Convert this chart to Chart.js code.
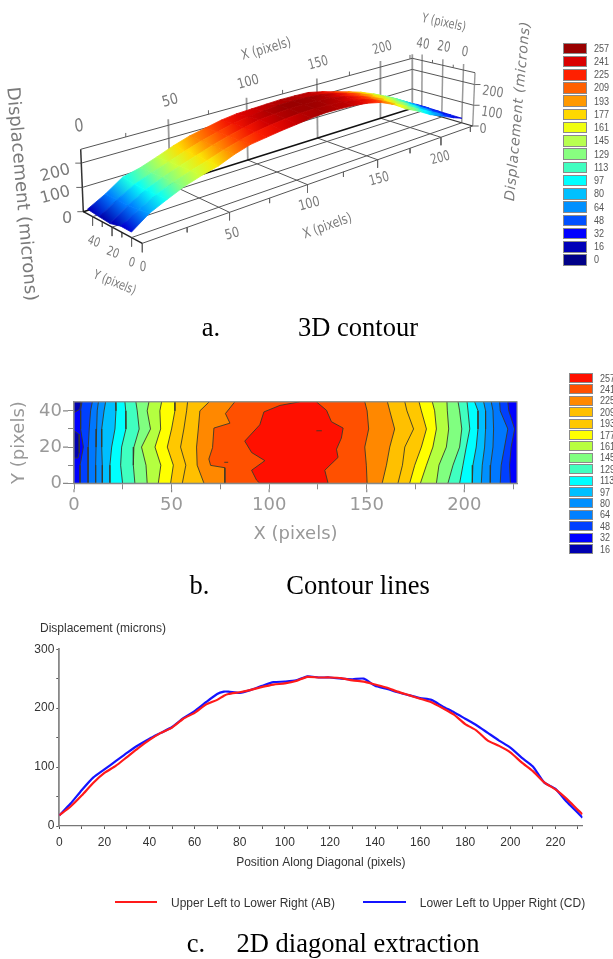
<!DOCTYPE html>
<html><head><meta charset="utf-8">
<style>
html,body{margin:0;padding:0;background:#fff;width:613px;height:959px;overflow:hidden}
#page{position:relative;width:613px;height:959px;overflow:hidden;filter:blur(0.55px)}
canvas{position:absolute;left:0}
.t{position:absolute;white-space:nowrap;transform-origin:center}
.sw{position:absolute;box-sizing:border-box;border:1.5px solid #8a8a8a}
</style>
<script src="https://cdn.jsdelivr.net/npm/chart.js@4"></script>
</head><body><div id="page">
<canvas id="c3d" width="613" height="320" style="top:0"></canvas>
<canvas id="cmap" width="613" height="165" style="top:385px"></canvas>
<canvas id="cline" width="613" height="235" style="top:640px"></canvas>
</div>
<script>
/* ---------- panel c: diagonal extraction ---------- */
const diagX=[0,5,10,15,20,25,30,35,40,45,50,55,60,65,70,73,75,80,85,90,95,100,105,110,115,120,125,130,135,140,145,150,155,160,165,170,175,180,185,190,195,200,205,210,215,220,225,230,232];
const upperLeftAB=[18,33,52,73,90,102,117,132,146,158,167,182,192,206,214,221,224,227,231,236,240,242,246,253,252,252,251,247,245,240,235,228,222,216,210,200,189,173,162,145,136,125,108,93,74,62,46,27,20];
const lowerLeftCD=[18,38,61,82,96,110,124,137,148,158,168,183,195,210,224,228,228,226,231,238,244,245,247,254,252,252,250,249,250,238,233,227,222,217,214,203,193,182,171,158,145,133,116,101,74,63,41,22,14];
const seriesNames=['Upper Left to Lower Right (AB)','Lower Left to Upper Right (CD)'];

/* ---------- panel b: contour lines, X position of each line at each Y row ---------- */
const contourRowsY=[45,40,30,20,10,0];
const contourLeft=[
 [4.1,3.4,3.4,4.8,3.1,3.1],
 [9.4,8.5,7.8,7.3,7.2,7.2],
 [12.5,11.9,11.6,11.3,11.1,11.1],
 [16.2,15.4,14.2,14.2,14.5,14.5],
 [21.3,21.5,21,19.3,18.4,18.4],
 [26.1,26.5,26.6,24.4,23.9,24.9],
 [31.7,32.4,33.4,30.7,30.4,31.2],
 [38.4,37.5,39.2,34.6,36.9,37.5],
 [44.9,44,44.4,41.5,44.5,43.2],
 [51.7,51.7,50,47.8,50.9,49.5],
 [58.2,57.7,56.3,54.6,57.3,55.5],
 [69.3,64.5,63.7,62.8,63.1,66.6]];
const contourRight=[
 [149,150.2,151,149,149.8,150.2],
 [160.6,161.8,164.3,161.8,160.1,157.9],
 [169.5,170.6,174,169.5,168.3,166],
 [176.8,178,180.6,178,174.6,172],
 [183.6,184.8,185.7,183.9,180.6,177.5],
 [191.1,191.3,192,190.8,187,185.7],
 [196.8,197.6,198.7,197.6,194.2,191.6],
 [201.4,201.9,202.8,201,199.3,197.6],
 [205.3,207,207,206.1,204.4,204.1],
 [209.9,210.9,210.9,210.4,209.2,208.7],
 [213.8,214.7,215,214.7,213.5,213.3],
 [218.1,218.4,222.3,220.6,218.9,218.4],
 [222.3,222.8,225.8,224,223.2,223.6]];
const contourEdgeX=[82.4,77.6,79.9,71.7,71,69.1,70,77.3,77.3];
const contourEdgeY=[45,38.5,33.2,30.5,19.7,13.4,9.9,8.6,0];
const peakX=[115.7,105.5,97.3,95.2,87.5,91,97.8,91,93.5,95.2,130.2,128.5,135.3,134.5,137,137.9,131.9,129.4,124.2];
const peakY=[45,43,39.4,32.3,23.3,17,12.5,7.2,1.8,0,0,7.2,14.3,18.8,25,30.5,34,40.3,45];
const lobeX=[0,2.6,2.8,2.6,2,0];
const lobeY=[29,27,22,17,14,14];
const lobeTopX=[0,3.6,3,0];
const lobeTopY=[45,45,41,39];
const speckA=[[77,11.6],[79,11.6]];
const speckB=[[124.2,29],[127,29]];
const bandLeftColors=['#0040ff','#0078ff','#0090ff','#00bfff','#00ffff','#40ffc0','#80ff80','#b4ff40','#ffff00','#ffc800','#ffc000','#ff8800'];
const bandRightColors=['#ff8800','#ffc000','#ffc800','#ffff00','#b4ff40','#80ff80','#40ffc0','#00ffff','#00bfff','#0090ff','#0078ff','#0040ff','#0000ff'];

/* ---------- panel b legend ---------- */
const mapLegendLevels=[257,241,225,209,193,177,161,145,129,113,97,80,64,48,32,16];
const mapLegendColors=['#ff1000','#ff5000','#ff8800','#ffc000','#ffc800','#ffff00','#b8ff40','#80ff80','#40ffc0','#00ffff','#00c0ff','#0090ff','#0080ff','#0040ff','#0000ff','#0000b0'];

/* ---------- panel a: surface heights per X station, one list per Y row ---------- */
const surfaceX=[0,10,20,30,40,50,60,70,80,90,100,110,120,130,140,150,160,170,180,190,200,210,220,227];
const surfaceRowsY=[45,33,22,11,0];
const surfaceRow45=[20,59,107,124,149,176,198,213,228,237,240,243,246,245,243,229,211,193,173,147,118,83,46,27];
const surfaceRow33=[14,60,100,126,150,175,197,215,232,243,250,256,257,255,250,238,220,200,176,150,120,84,48,26];
const surfaceRow22=[10,58,98,127,152,174,197,216,232,246,253,257,257,256,251,239,222,199,172,143,112,76,44,24];
const surfaceRow11=[22,62,100,128,151,172,195,214,230,240,248,253,255,252,248,238,223,196,165,135,102,70,40,23];
const surfaceRow0=[21,70,101,130,151,168,195,215,224,233,240,248,252,250,246,238,223,195,156,126,91,65,38,22];
const surfaceRows=[surfaceRow45,surfaceRow33,surfaceRow22,surfaceRow11,surfaceRow0];
const levels3d=[257,241,225,209,193,177,161,145,129,113,97,80,64,48,32,16,0];
const colors3d=['#990000','#d90000','#ff2000','#ff6000','#ff9900','#ffd800','#f0ff10','#b8ff50','#88ff80','#40ffc0','#00ffff','#00c0ff','#0090ff','#0050ff','#0000ff','#0000b8','#000088'];
const xTicks3d=[0,50,100,150,200], xMinor3d=[25,75,125,175,225];
const yTicks3d=[0,20,40], yMinor3d=[10,30];
const zTicks3d=[0,100,200];

Chart.defaults.animation=false;
Chart.defaults.responsive=false;
Chart.defaults.maintainAspectRatio=false;

/* 3D box: camera view reduced to its eight corners */
const box={X:227,Ylo:-11,Yhi:49.5,Z:257,warp:0.27,
 f00:[142.3,243.3],f01:[83.3,211.7],f10:[472.7,126],f11:[412.3,108.3],
 t00:[141.3,175.3],t01:[80.7,149.3],t10:[475,72.7],t11:[412.3,58.3]};
function lerp(a,b,t){return [a[0]+(b[0]-a[0])*t,a[1]+(b[1]-a[1])*t];}
function project(X,Y,z){
 const u=X/box.X, fx=u*(1+box.warp)/(1+box.warp*u);
 const fy=(Y-box.Ylo)/(box.Yhi-box.Ylo), fz=z/box.Z;
 const f=lerp(lerp(box.f00,box.f10,fx),lerp(box.f01,box.f11,fx),fy);
 const t=lerp(lerp(box.t00,box.t10,fx),lerp(box.t01,box.t11,fx),fy);
 const p=lerp(f,t,fz);
 return {x:p[0],y:p[1]};
}
function wire(pts,color,width){return {type:'scatter',data:pts,showLine:true,borderColor:color,borderWidth:width,pointRadius:0,tension:0,fill:false};}
function shift(p,dx,dy){return {x:p.x+dx,y:p.y+dy};}
const G='#666',L='#9a9a9a',D='#111';
const wires=[];
[box.Ylo,0,20,40].forEach((Y,i)=>wires.push(wire([project(0,Y,0),project(227,Y,0)],'#555',1)));
wires.push(wire([project(0,box.Yhi,0),project(227,box.Yhi,0)],D,1.6));
xTicks3d.slice(1).forEach(X=>wires.push(wire([project(X,box.Ylo,0),project(X,box.Yhi,0)],'#555',1)));
wires.push(wire([project(227,box.Ylo,0),project(227,box.Yhi,0)],'#333',1.2));
wires.push(wire([project(0,box.Ylo,0),project(0,box.Yhi,0)],'#222',1.4));
[100,200,257].forEach(z=>{
 wires.push(wire([project(0,box.Yhi,z),project(227,box.Yhi,z)],'#555',1));
 wires.push(wire([project(227,box.Yhi,z),project(227,box.Ylo,z)],'#555',1));
});
xTicks3d.slice(1).forEach(X=>wires.push(wire([project(X,box.Yhi,0),shift(project(X,box.Yhi,257),0,-6)],L,1.8)));
yTicks3d.forEach(Y=>wires.push(wire([project(227,Y,0),shift(project(227,Y,257),0,-6)],L,1.5)));
wires.push(wire([project(227,box.Yhi,0),shift(project(227,box.Yhi,257),0,-4)],L,1.8));
wires.push(wire([project(227,box.Ylo,0),project(227,box.Ylo,257)],L,1.4));
wires.push(wire([project(0,box.Yhi,0),project(0,box.Yhi,257)],'#333',1.5));
xTicks3d.slice(1).forEach(X=>{const p=project(X,box.Ylo,0);wires.push(wire([p,shift(p,0,8)],G,1));});
xMinor3d.forEach(X=>{const p=project(X,box.Ylo,0);wires.push(wire([p,shift(p,0,5)],G,1));
 const q=project(X,box.Yhi,257);wires.push(wire([q,shift(q,0,-4)],G,1));});
yTicks3d.forEach(Y=>{const p=project(0,Y,0);wires.push(wire([p,shift(p,0,9)],G,1));});
yMinor3d.forEach(Y=>{const p=project(0,Y,0);wires.push(wire([p,shift(p,0,5)],G,1));
 const q=project(227,Y,257);wires.push(wire([q,shift(q,0,-3)],G,1));});
{const p=project(0,box.Ylo,0);wires.push(wire([p,shift(p,0,9)],G,1));}
zTicks3d.forEach(z=>{const p=project(227,box.Ylo,z);wires.push(wire([p,shift(p,6,0)],G,1));
 const q=project(0,box.Yhi,z);wires.push(wire([q,shift(q,-6,0)],G,1));});

const rowSets=surfaceRows.map((row,i)=>({type:'scatter',surfaceRow:true,zs:row,
 data:row.map((z,j)=>project(surfaceX[j],surfaceRowsY[i],z)),showLine:false,pointRadius:0}));

function hex(c){return [1,3,5].map(i=>parseInt(c.substr(i,2),16));}
function colorAt(z){
 for(let i=levels3d.length-1;i>0;i--){
  if(z<=levels3d[i-1]){
   const t=(z-levels3d[i])/(levels3d[i-1]-levels3d[i]);
   const a=hex(colors3d[i]),b=hex(colors3d[i-1]);
   return 'rgb('+a.map((v,k)=>Math.round(v+(b[k]-v)*t)).join(',')+')';
  }
 }
 return colors3d[0];
}
const surfacePlugin={id:'surface',afterDatasetsDraw(chart){
 const ctx=chart.ctx;
 const sets=chart.data.datasets.map((d,i)=>({d,m:chart.getDatasetMeta(i)})).filter(o=>o.d.surfaceRow);
 ctx.save();ctx.lineWidth=0.8;
 for(let r=0;r<sets.length-1;r++){
  const A=sets[r],B=sets[r+1];
  for(let j=0;j<A.m.data.length-1;j++){
   const a0=A.m.data[j],a1=A.m.data[j+1],b0=B.m.data[j],b1=B.m.data[j+1];
   const mx0=(a0.x+b0.x)/2,my0=(a0.y+b0.y)/2,mx1=(a1.x+b1.x)/2,my1=(a1.y+b1.y)/2;
   const g=ctx.createLinearGradient(mx0,my0,mx1,my1);
   g.addColorStop(0,colorAt((A.d.zs[j]+B.d.zs[j])/2));
   g.addColorStop(1,colorAt((A.d.zs[j+1]+B.d.zs[j+1])/2));
   ctx.fillStyle=g;ctx.strokeStyle=g;
   ctx.beginPath();ctx.moveTo(a0.x,a0.y);ctx.lineTo(a1.x,a1.y);ctx.lineTo(b1.x,b1.y);ctx.lineTo(b0.x,b0.y);ctx.closePath();
   ctx.fill();ctx.stroke();
  }
 }
 ctx.restore();
}};
new Chart(document.getElementById('c3d'),{type:'scatter',
 data:{datasets:wires.concat(rowSets)},
 options:{layout:{padding:0},plugins:{legend:{display:false},tooltip:{enabled:false}},
  scales:{x:{type:'linear',display:false,min:0,max:613},y:{type:'linear',display:false,min:0,max:320,reverse:true}}},
 plugins:[surfacePlugin]});

/* ---------- panel b chart ---------- */
const toPts=(xs,ys)=>xs.map((x,i)=>({x,y:ys[i]}));
const contourSets=[];
function band(pts,color,kind){contourSets.push({type:'scatter',data:pts,showLine:true,borderColor:'#3a3a2a',borderWidth:0.9,pointRadius:0,tension:0,fill:false,regionColor:color,regionKind:kind});}
contourLeft.forEach((xs,i)=>band(toPts(xs,contourRowsY),bandLeftColors[i],'right'));
band(toPts(contourEdgeX,contourEdgeY),'#ff5000','right');
band(toPts(peakX,peakY),'#ff1000','closed');
contourRight.forEach((xs,i)=>band(toPts(xs,contourRowsY),bandRightColors[i],'right'));
band(toPts(lobeX,lobeY),'#0000b0','closed');
band(toPts(lobeTopX,lobeTopY),'#0000b0','closed');
band(speckA.map(p=>({x:p[0],y:p[1]})),null,'line');
band(speckB.map(p=>({x:p[0],y:p[1]})),null,'line');

const regionPlugin={id:'regions',
 beforeDatasetsDraw(chart){
  const ctx=chart.ctx,a=chart.chartArea;
  ctx.save();ctx.beginPath();ctx.rect(a.left,a.top,a.width,a.height);ctx.clip();
  ctx.fillStyle='#0000ff';ctx.fillRect(a.left,a.top,a.width,a.height);
  chart.data.datasets.forEach((d,i)=>{
   if(!d.regionColor)return;
   const pts=chart.getDatasetMeta(i).data;
   ctx.fillStyle=d.regionColor;ctx.beginPath();
   pts.forEach((p,k)=>k?ctx.lineTo(p.x,p.y):ctx.moveTo(p.x,p.y));
   if(d.regionKind==='right'){ctx.lineTo(a.right,a.bottom);ctx.lineTo(a.right,a.top);}
   ctx.closePath();ctx.fill();
  });
  ctx.restore();
 },
 afterDraw(chart){
  const ctx=chart.ctx,a=chart.chartArea,xs=chart.scales.x,ys=chart.scales.y;
  ctx.save();ctx.strokeStyle='#888';ctx.lineWidth=1.2;
  ctx.strokeRect(a.left,a.top,a.width,a.height);
  ctx.beginPath();
  xs.ticks.forEach((t,i)=>{if(t.value%50===0){const p=xs.getPixelForTick(i);ctx.moveTo(p,a.bottom+6);ctx.lineTo(p,a.bottom+9);}});
  ys.ticks.forEach((t,i)=>{if(t.value%20===0){const p=ys.getPixelForTick(i);ctx.moveTo(a.left-6,p);ctx.lineTo(a.left-11,p);}});
  ctx.stroke();ctx.restore();
 }};
new Chart(document.getElementById('cmap'),{type:'scatter',
 data:{datasets:contourSets},
 options:{layout:{padding:{top:15,right:96,left:0,bottom:0}},
  plugins:{legend:{display:false},tooltip:{enabled:false}},
  scales:{
   x:{type:'linear',min:0,max:227,
    afterFit(s){s.height=66.7;},
    border:{color:'#888',width:1.2},
    grid:{drawOnChartArea:false,tickLength:6,tickColor:'#888'},
    ticks:{stepSize:25,autoSkip:false,maxRotation:0,padding:5,color:'#999',font:{family:'DejaVu Sans',size:18},includeBounds:false,callback:v=>v%50===0?String(v):''},
    title:{display:true,text:'X (pixels)',color:'#999',font:{family:'DejaVu Sans',size:18},padding:{top:0,bottom:5}}},
   y:{type:'linear',min:0,max:45,
    afterFit(s){s.width=74;},
    border:{color:'#888',width:1.2},
    grid:{drawOnChartArea:false,tickLength:6,tickColor:'#888'},
    ticks:{stepSize:10,autoSkip:false,padding:6,color:'#999',font:{family:'DejaVu Sans',size:18},includeBounds:false,callback:v=>v%20===0?String(v):''},
    title:{display:true,text:'Y (pixels)',color:'#999',font:{family:'DejaVu Sans',size:18},padding:{top:9,bottom:0}}}
  }},
 plugins:[regionPlugin]});

/* ---------- panel c chart ---------- */
new Chart(document.getElementById('cline'),{type:'scatter',
 data:{datasets:[
  {label:seriesNames[0],data:toPts(diagX,upperLeftAB),showLine:true,borderColor:'#ff1a1a',borderWidth:2.2,pointRadius:0,tension:0.2,fill:false},
  {label:seriesNames[1],data:toPts(diagX,lowerLeftCD),showLine:true,borderColor:'#1414ff',borderWidth:2.2,pointRadius:0,tension:0.2,fill:false}]},
 options:{layout:{padding:{top:7.3,right:30.5,left:0,bottom:0}},
  plugins:{legend:{display:false},tooltip:{enabled:false}},
  scales:{
   x:{type:'linear',min:0,max:232,
    afterFit(s){s.height=49;},
    border:{color:'#777',width:1.3},
    grid:{drawOnChartArea:false,tickLength:3,tickColor:'#555'},
    ticks:{stepSize:10,autoSkip:false,maxRotation:0,padding:6,color:'#333',font:{family:'Liberation Sans',size:12},includeBounds:false,callback:v=>v%20===0?String(v):''},
    title:{display:true,text:'Position Along Diagonal (pixels)',color:'#333',font:{family:'Liberation Sans',size:12},padding:{top:0,bottom:5}}},
   y:{type:'linear',min:0,max:300,
    afterFit(s){s.width=59.3;},
    border:{color:'#888',width:1.8},
    grid:{drawOnChartArea:false,tickLength:3,tickColor:'#555'},
    ticks:{stepSize:50,autoSkip:false,padding:2,color:'#333',font:{family:'Liberation Sans',size:12},callback:v=>v%100===0?String(v):''}}
  }}});

/* ---------- text and legends as real text ---------- */
const page=document.getElementById('page');
function text(s,x,y,o){o=o||{};const e=document.createElement('div');e.className='t';e.textContent=s;
 e.style.left=x+'px';e.style.top=y+'px';
 e.style.transform='translate(-50%,-50%) rotate('+(o.rot||0)+'deg) scaleX('+(o.sx||1)+')';
 e.style.font=(o.style||'')+' '+(o.size||14)+'px '+(o.family||'"DejaVu Sans"');
 e.style.color=o.color||'#777';
 if(o.spacing)e.style.letterSpacing=o.spacing+'px';
 page.appendChild(e);}
const GR='#7a7a7a';
text('0',79,125,{size:18,rot:-8,sx:.8,color:GR});
text('50',170,100,{size:15,rot:-15,sx:.85,color:GR});
text('100',248,81,{size:14,rot:-15,sx:.82,color:GR});
text('150',318,62,{size:14,rot:-15,sx:.75,color:GR});
text('200',382,47,{size:14,rot:-15,sx:.72,color:GR});
text('X (pixels)',266,48,{size:14,rot:-16,sx:.78,color:GR});
text('Y (pixels)',444,22,{size:13,rot:12,sx:.75,color:GR});
text('40',423,43,{size:14,rot:10,sx:.72,color:GR});
text('20',444,46,{size:14,rot:10,sx:.72,color:GR});
text('0',465,51,{size:14,rot:8,sx:.75,color:GR});
text('200',493,91,{size:14,rot:8,sx:.8,color:GR});
text('100',492,112,{size:14,rot:8,sx:.8,color:GR});
text('0',483,128,{size:14,sx:.8,color:GR});
text('Displacement  (microns)',517,111,{size:14,rot:-85,style:'italic',spacing:.6,color:GR});
text('Displacement  (microns)',23,194,{size:18,rot:85,color:GR});
text('200',55,172,{size:16,rot:-15,color:GR});
text('100',55,194,{size:16,rot:-15,color:GR});
text('0',67,217,{size:16,color:GR});
text('40',94,241,{size:13,rot:20,sx:.75,color:GR});
text('20',113,252,{size:13,rot:20,sx:.75,color:GR});
text('0',132,262,{size:13,rot:15,sx:.75,color:GR});
text('0',143,266,{size:14,rot:5,sx:.75,color:GR});
text('Y (pixels)',115,282,{size:13,rot:22,sx:.75,color:GR});
text('50',232,233,{size:14,rot:-15,sx:.82,color:GR});
text('100',309,203,{size:14,rot:-15,sx:.8,color:GR});
text('150',379,178,{size:14,rot:-15,sx:.75,color:GR});
text('200',440,157,{size:14,rot:-15,sx:.72,color:GR});
text('X (pixels)',327,225,{size:14,rot:-20,sx:.78,color:GR});

function legend(levels,colors,left,first,step,h,tx){
 levels.forEach((v,i)=>{
  const y=first+i*step,s=document.createElement('div');s.className='sw';
  s.style.cssText+=';left:'+left+'px;top:'+(y-h/2)+'px;width:23.4px;height:'+h+'px;background:'+colors[i];
  page.appendChild(s);
  const e=document.createElement('div');e.className='t';e.textContent=v;
  e.style.cssText+=';left:'+tx+'px;top:'+(y-6.5)+'px;font:11px/13px "Liberation Sans";color:#555;transform-origin:left center;transform:scaleX(.82)';
  page.appendChild(e);
 });
}
legend(levels3d,colors3d,563.3,48.3,13.23,11.5,594);
legend(mapLegendLevels,mapLegendColors,569.3,378,11.4,10,600);

const cap={family:'"Liberation Serif"',size:26.5,color:'#000'};
text('a.',211,327,cap);text('3D contour',358,327,cap);
text('b.',199.5,585,cap);text('Contour lines',358,585,cap);
text('c.',196,943,cap);text('2D diagonal extraction',358,943,cap);

const lab={family:'"Liberation Sans"',size:12,color:'#333'};
text('Displacement (microns)',103,628,lab);
function legLine(x,w,c){const d=document.createElement('div');d.style.cssText='position:absolute;left:'+x+'px;top:901px;width:'+w+'px;height:2px;background:'+c;page.appendChild(d);}
legLine(115,42,'#ff1a1a');legLine(363,43,'#1414ff');
text(seriesNames[0],253,902.7,lab);text(seriesNames[1],502.5,902.7,lab);
</script>
</body></html>
